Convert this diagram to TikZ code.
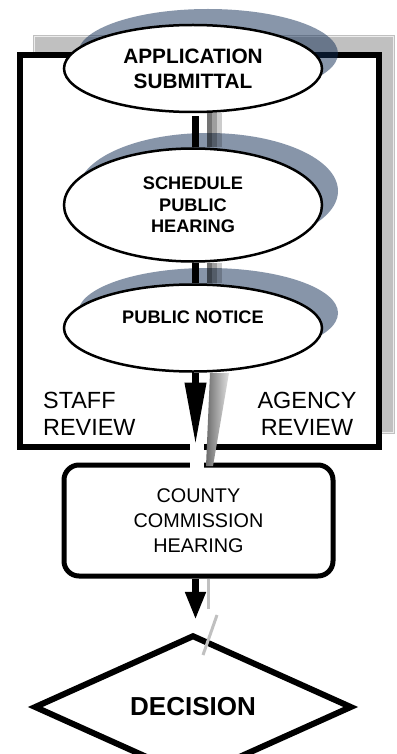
\documentclass[tikz,border=0pt]{standalone}
\usepackage{fontspec}
\setmainfont{Liberation Sans}
\usetikzlibrary{shapes.geometric,arrows.meta,calc}
\definecolor{shadowc}{RGB}{17,45,85}
\definecolor{grayrect}{RGB}{192,192,192}
\pgfdeclarelayer{back}
\pgfdeclarelayer{shade}
\pgfsetlayers{back,shade,main}
\begin{document}
\begin{tikzpicture}[x=1pt,y=-1pt,
  stage/.style={ellipse,draw,line width=2.5pt,fill=white,minimum width=258pt,inner sep=0pt,align=center},
  sh/.style={fill=shadowc,fill opacity=0.5},
  conn/.style={line width=7pt},
  lbl/.style={inner sep=0pt,font=\fontsize{23.4}{27}\selectfont}]
\useasboundingbox (0,0) rectangle (396,754);
% ellipses
\node[stage, minimum height=87pt, font=\bfseries\fontsize{20.8}{25}\selectfont] (e1) at (193,68.5) {APPLICATION\\SUBMITTAL};
\node[stage, minimum height=113pt, font=\bfseries\fontsize{18.2}{21.5}\selectfont] (e2) at (193,205) {SCHEDULE\\PUBLIC\\HEARING};
\node[stage, minimum height=87pt, font=\bfseries\fontsize{18.2}{21.5}\selectfont, text height=13pt, text depth=22pt] (e3) at (193,328) {PUBLIC NOTICE};
% background frame
\begin{pgfonlayer}{back}
\node[fill=grayrect, minimum width=362pt, minimum height=399pt, inner sep=0pt] (grayback) at (214,234.5) {};
\draw[white!70!grayrect, line width=1pt] ([shift={(2pt,-2pt)}]grayback.north west) rectangle ([shift={(-2pt,2pt)}]grayback.south east);
\node[draw, line width=6pt, fill=white, minimum width=359pt, minimum height=392pt, inner sep=0pt] (frame) at (199.5,251) {};
\end{pgfonlayer}
% shadows and connectors
\begin{pgfonlayer}{shade}
\path[sh] ([shift={(15pt,15pt)}]e1.center) ellipse [x radius=130pt, y radius=44.5pt];
\path[sh] ([shift={(15pt,14pt)}]e2.center) ellipse [x radius=130pt, y radius=58pt];
\path[sh] ([shift={(15pt,15pt)}]e3.center) ellipse [x radius=130pt, y radius=45pt];
\foreach \dx/\o in {14/0.55,19/0.38,24/0.2}{
  \fill[black,fill opacity=\o] ([xshift=\dx pt]e1.south) rectangle ([xshift=\dx pt+5pt]e2.north);
  \fill[black,fill opacity=\o] ([xshift=\dx pt]e2.south) rectangle ([xshift=\dx pt+5pt]e3.north);
}
\draw[conn] ([xshift=2.5pt,yshift=-3pt]e1.south) -- ([xshift=2.5pt]e2.north);
\draw[conn] ([xshift=2.5pt]e2.south) -- ([xshift=2.5pt]e3.north);
\end{pgfonlayer}
% labels in frame
\node[lbl, anchor=west, align=left] (staff) at (43,413.5) {STAFF\\REVIEW};
\node[lbl, align=center] (agency) at (307,413.5) {AGENCY\\REVIEW};
% hearing box
\node[draw, line width=5pt, rounded corners=15pt, fill=white, minimum width=269pt, minimum height=111pt, inner sep=0pt, align=center, font=\fontsize{19.8}{25}\selectfont] (hearing) at (198.5,520.5) {COUNTY\\COMMISSION\\HEARING};
% decision
\node[diamond, draw, line width=6pt, minimum width=318pt, minimum height=94pt, inner sep=0pt, font=\bfseries\fontsize{26}{30}\selectfont] (decision) at (193,707) {DECISION};
% arrow 3 with its shadow
\fill[white] (190,443) rectangle (204,469);
\shade[left color=black!58, right color=black!12] (210,373) -- (229,373) -- (213,466) -- (206,466) -- cycle;
\draw[conn, -{Triangle[length=63pt,width=20pt]}] ([xshift=2.5pt]e3.south) -- ($(hearing.north)+(-3,-17)$);
% arrow 4 with its shadow
\draw[grayrect, line width=2.5pt] ([xshift=10pt]hearing.south) -- ++(0,30);
\draw[grayrect, line width=3pt] (217,615) -- (203,655);
\draw[conn, -{Triangle[length=28pt,width=19pt]}] ([xshift=-3pt]hearing.south) -- ($(decision.north)+(2.5,-12)$);
\end{tikzpicture}
\end{document}
